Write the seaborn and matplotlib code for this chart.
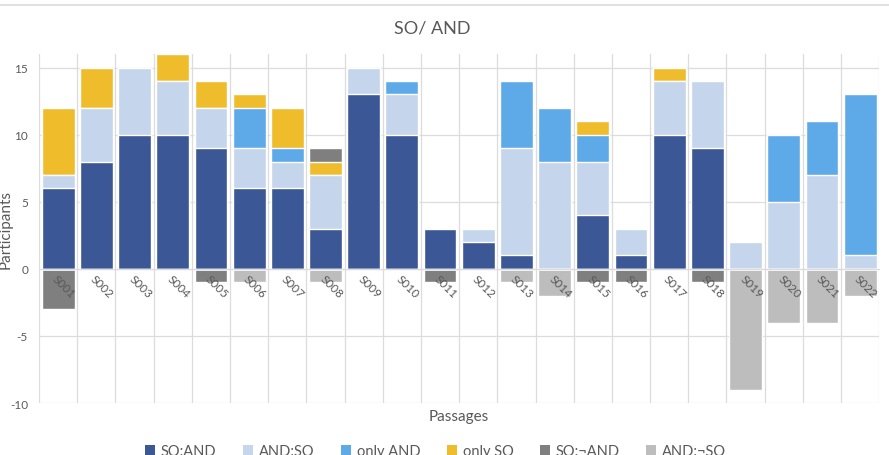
import matplotlib.pyplot as plt
import numpy as np
import seaborn as sns
from matplotlib.lines import Line2D
from matplotlib.patches import Patch

PASSAGES = [f"S{i:03d}" for i in range(1, 23)]
SO_AND = [6, 8, 10, 10, 9, 6, 6, 3, 13, 10, 3, 2, 1, 0, 4, 1, 10, 9, 0, 0, 0, 0]
AND_SO = [1, 4, 5, 4, 3, 3, 2, 4, 2, 3, 0, 1, 8, 8, 4, 2, 4, 5, 2, 5, 7, 1]
ONLY_AND = [0, 0, 0, 0, 0, 3, 1, 0, 0, 1, 0, 0, 5, 4, 2, 0, 0, 0, 0, 5, 4, 12]
ONLY_SO = [5, 3, 0, 2, 2, 1, 3, 1, 0, 0, 0, 0, 0, 0, 1, 0, 1, 0, 0, 0, 0, 0]
SO_NOT_AND = [-3, 0, 0, 0, -1, 0, 0, 1, 0, 0, -1, 0, 0, 0, -1, -1, 0, -1, 0, 0, 0, 0]
AND_NOT_SO = [0, 0, 0, 0, 0, -1, 0, -1, 0, 0, 0, 0, -1, -2, 0, 0, 0, 0, -9, -4, -4, -2]

SERIES = ["SO:AND", "AND:SO", "only AND", "only SO", "SO:¬AND", "AND:¬SO"]
VALUES = [SO_AND, AND_SO, ONLY_AND, ONLY_SO, SO_NOT_AND, AND_NOT_SO]
COLORS = ["#3c5795", "#c5d5ec", "#5eaae9", "#efbc2b", "#7f7f7f", "#bdbdbd"]

TEXT = "#595959"
GRID = "#dcdcdc"
FONT = ["Lato", "DejaVu Sans"]

sns.set_theme(style="white")
plt.rcParams["font.family"] = FONT
plt.rcParams["axes.unicode_minus"] = False

fig = plt.figure(figsize=(8.89, 4.56), dpi=100)
ax = fig.add_axes([0.044, 0.114, 0.945, 0.765])

vals = np.array(VALUES, dtype=float)
pos_cum = np.cumsum(np.clip(vals, 0, None), axis=0)
neg_cum = np.cumsum(np.clip(vals, None, 0), axis=0)

# stacked bars: draw cumulative totals from the outermost layer inward
for k in range(len(SERIES) - 1, -1, -1):
    for cum in (pos_cum, neg_cum):
        sns.barplot(x=PASSAGES, y=cum[k], order=PASSAGES, color=COLORS[k],
                    saturation=1, width=0.86, ax=ax, zorder=2)

ax.set_xlim(-0.5, len(PASSAGES) - 0.5)
ax.set_ylim(-10, 16)
ax.set_yticks([-10, -5, 0, 5, 10, 15])

ax.grid(False)
for y in ax.get_yticks():
    ax.axhline(y, color=GRID, lw=0.9, zorder=0)
for x in np.arange(-0.5, len(PASSAGES), 1.0):
    ax.axvline(x, color=GRID, lw=0.9, zorder=0)
ax.set_axisbelow(False)

for side in ["top", "right", "left"]:
    ax.spines[side].set_visible(False)
ax.spines["bottom"].set_position(("data", 0))
ax.spines["bottom"].set_color(GRID)
ax.spines["bottom"].set_linewidth(0.9)

ax.tick_params(axis="x", length=0, pad=3, labelsize=8.5, labelcolor=TEXT)
ax.tick_params(axis="y", length=0, pad=8, labelsize=8.5, labelcolor=TEXT)
for lbl in ax.get_xticklabels():
    lbl.set_rotation(-45)
    lbl.set_rotation_mode("anchor")
    lbl.set_ha("left")
    lbl.set_va("top")
for lbl in ax.get_yticklabels():
    lbl.set_ha("right")

ax.set_xlabel("Passages", fontsize=11, color=TEXT)
ax.xaxis.set_label_coords(0.5, -0.018)
ax.set_ylabel("Participants", fontsize=11, color=TEXT)
ax.yaxis.set_label_coords(-0.031, 0.5)

fig.text(0.486, 1 - 28.5 / 456, "SO/ AND", ha="center", va="center",
         fontsize=13, color=TEXT)
fig.add_artist(Line2D([0, 1], [1 - 6 / 456, 1 - 6 / 456], color=GRID, lw=1.2,
                      transform=fig.transFigure))

handles = [Patch(facecolor=c, edgecolor="none") for c in COLORS]
fig.legend(handles, SERIES, loc="center", bbox_to_anchor=(0.49, 1 - 452 / 456),
           ncol=6, frameon=False, fontsize=10.5, labelcolor=TEXT,
           handlelength=0.7, handleheight=0.7, handletextpad=0.4,
           columnspacing=1.8)

fig.savefig("out.png", dpi=100)
